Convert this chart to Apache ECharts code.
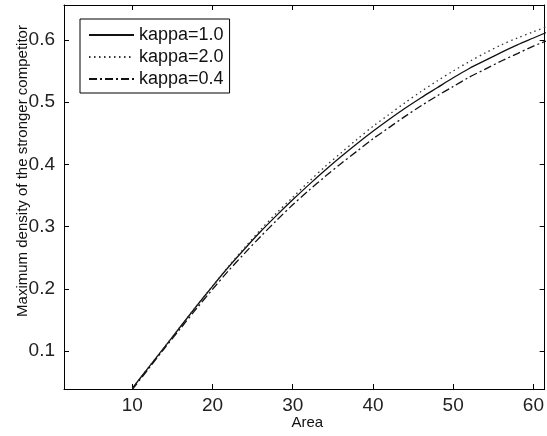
<!DOCTYPE html>
<html>
<head>
<meta charset="utf-8">
<script src="https://cdn.jsdelivr.net/npm/echarts@6/dist/echarts.min.js"></script>
<style>
html,body{margin:0;padding:0;background:#fff;}
#chart{width:547px;height:436px;}
</style>
</head>
<body>
<div id="chart"></div>
<script>
// Data
const areaX = [10,12,14,16,18,20,22,24,26,28,30,32,34,36,38,40,42,44,46,48,50,52,54,56,58,60,62];
const kappa10 = [0.040,0.073,0.106,0.139,0.172,0.204,0.235,0.264,0.292,0.318,0.343,0.367,0.390,0.412,0.433,0.453,0.472,0.490,0.507,0.523,0.539,0.554,0.567,0.580,0.592,0.603,0.614];
const kappa20 = [0.040,0.073,0.106,0.139,0.172,0.204,0.236,0.266,0.295,0.322,0.347,0.372,0.396,0.418,0.440,0.461,0.480,0.499,0.517,0.534,0.550,0.565,0.579,0.592,0.603,0.613,0.623];
const kappa04 = [0.038,0.071,0.104,0.136,0.168,0.199,0.229,0.257,0.284,0.310,0.335,0.358,0.380,0.401,0.421,0.441,0.459,0.477,0.494,0.510,0.525,0.540,0.553,0.566,0.578,0.590,0.600];
const seriesNames = ['kappa=1.0','kappa=2.0','kappa=0.4'];
const xTicks = [10,20,30,40,50,60];
const yTicks = [0.1,0.2,0.3,0.4,0.5,0.6];
const xTitle = 'Area';
const yTitle = 'Maximum density of the stronger competitor';

const pairs = ys => areaX.map((x,i)=>[x, ys[i]]);
const X_MIN = 1.5, X_MAX = 61.4, Y_MIN = 0.039, Y_MAX = 0.656;
const FONT = 'Liberation Sans, Arial, sans-serif';
const lineAxis = {lineStyle:{color:'#000',width:1}};

const chart = echarts.init(document.getElementById('chart'), null, {renderer:'canvas'});
chart.setOption({
  animation:false,
  backgroundColor:'#fff',
  grid:{left:64, right:2, top:5, bottom:47, containLabel:false},
  legend:{
    orient:'vertical', left:80, top:19,
    data:seriesNames,
    borderColor:'#000', borderWidth:1, borderRadius:0,
    padding:[6,6,4,8], itemGap:2, itemWidth:45, itemHeight:14,
    backgroundColor:'#fff',
    itemStyle:{opacity:0},
    textStyle:{fontFamily:FONT, fontSize:18, color:'#111', lineHeight:20}
  },
  xAxis:[{
    type:'value', min:X_MIN, max:X_MAX, position:'bottom',
    name:xTitle, nameLocation:'middle', nameGap:26, nameMoveOverlap:false,
    nameTextStyle:{fontFamily:FONT, fontSize:15, color:'#111', padding:[0,0,0,6]},
    axisLine:lineAxis, splitLine:{show:false},
    axisTick:{inside:true, length:5, customValues:xTicks, lineStyle:{color:'#000'}},
    axisLabel:{customValues:xTicks, fontFamily:FONT, fontSize:19, color:'#222', margin:7}
  },{
    type:'value', min:X_MIN, max:X_MAX, position:'top',
    axisLine:lineAxis, splitLine:{show:false},
    axisTick:{inside:true, length:5, customValues:xTicks, lineStyle:{color:'#000'}},
    axisLabel:{show:false}
  }],
  yAxis:[{
    type:'value', min:Y_MIN, max:Y_MAX, position:'left',
    name:yTitle, nameLocation:'middle', nameGap:34, nameMoveOverlap:false,
    nameTextStyle:{fontFamily:FONT, fontSize:15, color:'#111', padding:[0,0,0,52]},
    axisLine:{show:true, lineStyle:{color:'#000',width:1}}, splitLine:{show:false},
    axisTick:{show:true, inside:true, length:5, customValues:yTicks, lineStyle:{color:'#000'}},
    axisLabel:{customValues:yTicks, formatter:v=>v.toFixed(1), fontFamily:FONT, fontSize:19, color:'#222', margin:9}
  },{
    type:'value', min:Y_MIN, max:Y_MAX, position:'right',
    axisLine:{show:true, lineStyle:{color:'#000',width:1}}, splitLine:{show:false},
    axisTick:{show:true, inside:true, length:5, customValues:yTicks, lineStyle:{color:'#000'}},
    axisLabel:{show:false}
  }],
  series:[
    {name:seriesNames[0], type:'line', data:pairs(kappa10), showSymbol:false, symbol:'none', smooth:0.3,
     lineStyle:{color:'#111', width:1.3, type:'solid'}, itemStyle:{color:'#111'}},
    {name:seriesNames[1], type:'line', data:pairs(kappa20), showSymbol:false, symbol:'none', smooth:0.3,
     lineStyle:{color:'#333', width:1.3, type:[1.5,3.5]}, itemStyle:{color:'#333'}},
    {name:seriesNames[2], type:'line', data:pairs(kappa04), showSymbol:false, symbol:'none', smooth:0.3,
     lineStyle:{color:'#111', width:1.3, type:[8,3,2,3]}, itemStyle:{color:'#111'}}
  ]
});
</script>
</body>
</html>
